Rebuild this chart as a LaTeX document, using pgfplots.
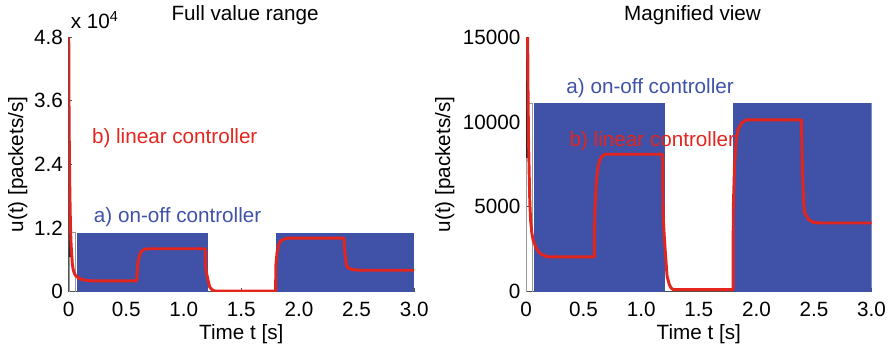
\documentclass[border=0pt]{standalone}
\usepackage{pgfplots}
\usepackage{pgfplotstable}
\pgfplotsset{compat=1.18}
\usepackage{fontspec}
\setmainfont{Liberation Sans}

\definecolor{onoff}{RGB}{63,82,167}
\definecolor{lin}{RGB}{228,37,30}
\definecolor{axisgray}{RGB}{80,80,80}
\newcommand\figfont{\fontsize{15.5}{18}\selectfont}

% linear controller output u(t) [packets/s]
\pgfplotstableread{
t      u
0.002  48000
0.004  36000
0.007  27000
0.010  21000
0.014  15500
0.018  11500
0.022  9000
0.027  7200
0.033  5300
0.040  4200
0.050  3500
0.060  3100
0.072  2850
0.090  2550
0.110  2350
0.135  2200
0.170  2100
0.200  2050
0.593  2050
0.595  3500
0.598  4800
0.605  5800
0.612  6500
0.620  7100
0.627  7400
0.640  7760
0.660  7980
0.685  8100
1.186  8100
1.188  7200
1.190  4500
1.200  3300
1.210  2280
1.225  900
1.245  400
1.260  220
1.280  120
1.798  120
1.799  4800
1.810  7370
1.825  8940
1.840  9530
1.870  9920
1.910  10120
2.390  10120
2.400  7180
2.410  5240
2.420  4630
2.455  4240
2.500  4080
2.550  4050
3.000  4050
}\linear

\pgfplotsset{
  ctrl/.style={
    scale only axis, width=259.2pt, height=191pt,
    xmin=0, xmax=3, ymin=0,
    clip mode=individual,
    axis x line=bottom, axis y line=left,
    axis line style={-, draw=axisgray, line width=0.6pt},
    tick align=inside, major tick length=2.6pt,
    tick style={axisgray, line width=0.6pt},
    xtick={0,0.5,1,1.5,2,2.5,3},
    xticklabels={0,0.5,1.0,1.5,2.0,2.5,3.0},
    xticklabel style={anchor=north, inner sep=0pt},
    xticklabel shift=7.5pt,
    yticklabel style={anchor=east, inner sep=0pt},
    yticklabel shift=4pt,
    scaled y ticks=false,
    /pgf/number format/assume math mode=true,
    /pgf/number format/1000 sep={},
    xlabel={Time t [s]},
    xlabel style={at={(axis description cs:0.5,-0.1895)}, anchor=base},
    ylabel={u(t) [packets/s]},
    title style={anchor=base, yshift=6.75pt},
  },
  onoffblock/.style={fill=onoff, draw=none},
  startup/.style={black!40, line width=0.5pt},
  spike/.style={black!85, line width=1pt},
  linline/.style={lin, line width=2.2pt, line join=round},
}

\begin{document}
\begin{tikzpicture}[font=\figfont]
\useasboundingbox (-51.4pt,-44.5pt) rectangle (619.1pt,218.8pt);

% full value range
\begin{axis}[ctrl,
  ymax=48000,
  ytick={0,12000,24000,36000,48000},
  yticklabels={0,1.2,2.4,3.6,4.8},
  ylabel style={at={(axis description cs:-0.1312,0.5)}, anchor=base},
  title={Full value range},
  title style={at={(axis description cs:0.511,1)}},
]
\addplot[onoffblock] coordinates {(0.07,0) (0.07,11100) (1.21,11100) (1.21,0)} -- cycle;
\addplot[onoffblock] coordinates {(1.80,0) (1.80,11100) (3.0,11100) (3.0,0)} -- cycle;
\addplot[startup] coordinates {(0.004,0) (0.004,11200) (0.062,11200) (0.062,0)};
\addplot[spike] coordinates {(0.012,6500) (0.012,13500)};
\addplot[linline] table[x=t, y=u] {\linear};
\node[anchor=base west, text=lin] at (axis cs:0.163,28000) {b) linear controller};
\node[anchor=base west, text=onoff] at (axis cs:0.18,13000) {a) on-off controller};
\node[anchor=base west, inner sep=0pt] at (rel axis cs:0,1) [xshift=1.5pt, yshift=6.75pt] {x 10\textsuperscript{4}};
\end{axis}

% magnified view
\begin{axis}[ctrl, at={(343.1pt,0pt)},
  ymax=15000,
  ytick={0,5000,10000,15000},
  ylabel style={at={(axis description cs:-0.2197,0.5)}, anchor=base},
  title={Magnified view},
  title style={at={(axis description cs:0.482,1)}},
]
\addplot[onoffblock] coordinates {(0.07,0) (0.07,11100) (1.21,11100) (1.21,0)} -- cycle;
\addplot[onoffblock] coordinates {(1.80,0) (1.80,11100) (3.0,11100) (3.0,0)} -- cycle;
\addplot[startup] coordinates {(0.004,0) (0.004,11100) (0.055,11100) (0.055,0)};
\addplot[spike] coordinates {(0.01,7900) (0.01,13650)};
\addplot[linline] table[x=t, y=u] {\linear};
\node[anchor=base west, text=onoff] at (axis cs:0.31,11690) {a) on-off controller};
\node[anchor=base west, text=lin] at (axis cs:0.338,8550) {b) linear controller};
\end{axis}
\end{tikzpicture}
\end{document}
